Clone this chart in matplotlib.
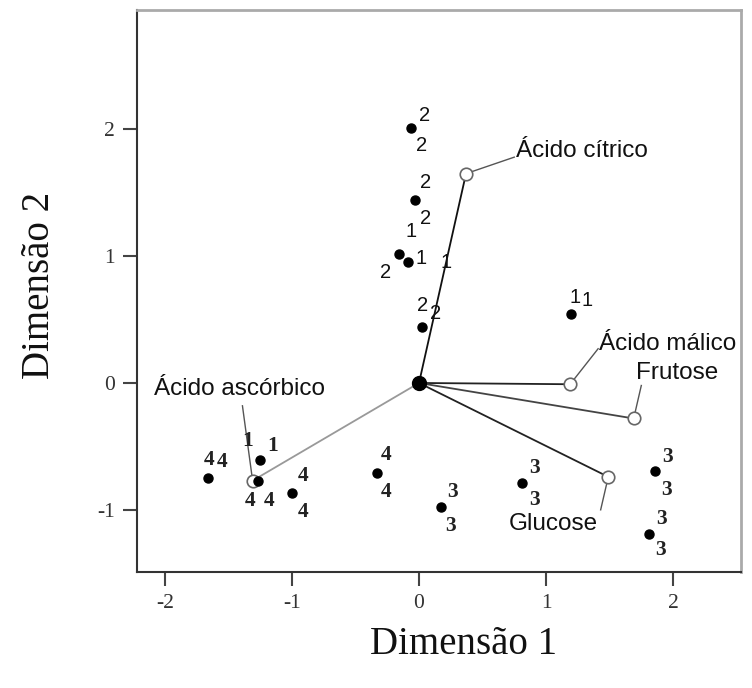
import matplotlib.pyplot as plt

plt.rcParams["axes.unicode_minus"] = False

# object scores (filled dots)
point_x = [-0.06, -0.03, -0.16, -0.09, 0.02, 1.20, -1.66, -1.25, -1.27, -1.00, -0.33, 0.17, 0.81, 1.86, 1.81]
point_y = [2.01, 1.44, 1.02, 0.95, 0.44, 0.54, -0.75, -0.61, -0.77, -0.87, -0.71, -0.98, -0.79, -0.69, -1.19]

# group labels around the points
label_text = ["2", "2", "2", "2", "1", "1", "2", "1", "2", "2", "1", "1",
              "4", "4", "1", "1", "4", "4", "4", "4", "4", "4",
              "3", "3", "3", "3", "3", "3", "3", "3"]
label_x = [0.04, 0.02, 0.05, 0.05, -0.06, 0.02, -0.26, 0.21, 0.03, 0.13, 1.23, 1.32,
           -1.65, -1.55, -1.35, -1.15, -1.33, -1.18, -0.91, -0.91, -0.26, -0.26,
           0.26, 0.25, 0.91, 0.91, 1.96, 1.95, 1.91, 1.90]
label_y = [2.11, 1.87, 1.58, 1.30, 1.19, 0.98, 0.87, 0.95, 0.61, 0.55, 0.67, 0.65,
           -0.61, -0.62, -0.46, -0.50, -0.93, -0.93, -0.73, -1.02, -0.57, -0.86,
           -0.86, -1.13, -0.67, -0.92, -0.58, -0.84, -1.07, -1.32]

# variable loadings (open circles)
variables = ["Ácido cítrico", "Ácido málico", "Frutose", "Glucose", "Ácido ascórbico"]
var_x = [0.37, 1.19, 1.69, 1.49, -1.31]
var_y = [1.65, -0.01, -0.28, -0.74, -0.77]
var_text_x = [0.76, 1.42, 1.71, 1.41, -2.09]
var_text_y = [1.83, 0.31, 0.08, -1.11, -0.05]
var_lead_x = [0.75, 1.41, 1.75, 1.43, -1.39]
var_lead_y = [1.78, 0.27, -0.02, -1.00, -0.18]
var_color = ["#111111", "#222222", "#444444", "#222222", "#999999"]

fig = plt.figure(figsize=(7.52, 6.88), dpi=100)
ax = fig.add_axes([0.1822, 0.1686, 0.8032, 0.8169])

# vectors from the origin
for i in range(len(variables)):
    ax.plot([0, var_x[i]], [0, var_y[i]], color=var_color[i], lw=1.3, zorder=2)
    ax.plot([var_x[i], var_lead_x[i]], [var_y[i], var_lead_y[i]], color="#555555", lw=1.0, zorder=2)
    ax.plot(var_x[i], var_y[i], "o", ms=9, mfc="white", mec="#666666", mew=1.2, zorder=3)
    ha = "right" if variables[i] == "Glucose" else "left"
    ax.text(var_text_x[i], var_text_y[i], variables[i], ha=ha, va="center",
            fontsize=17.5, family="Liberation Sans", color="#111111")

ax.plot(point_x, point_y, "o", color="black", ms=6.5, zorder=4)
ax.plot(0, 0, "o", color="black", ms=10, zorder=4)

for t, x, y in zip(label_text, label_x, label_y):
    if t in ("3", "4") or y < -0.3:
        ax.text(x, y, t, ha="center", va="center", fontsize=15.5,
                family="Liberation Serif", fontweight="bold", color="#222222")
    else:
        ax.text(x, y, t, ha="center", va="center", fontsize=14.5,
                family="Liberation Sans", color="#111111")

ax.set_xlim(-2.22, 2.535)
ax.set_ylim(-1.49, 2.94)
ax.set_xticks([-2, -1, 0, 1, 2])
ax.set_yticks([-1, 0, 1, 2])
ax.tick_params(direction="out", length=10, width=1.5, color="#444444",
               labelsize=15.5, labelcolor="#333333", pad=6)
for lab in ax.get_xticklabels() + ax.get_yticklabels():
    lab.set_family("Liberation Serif")

ax.spines["left"].set_color("#333333")
ax.spines["bottom"].set_color("#333333")
ax.spines["left"].set_linewidth(1.5)
ax.spines["bottom"].set_linewidth(1.5)
ax.spines["top"].set_color("#aaaaaa")
ax.spines["right"].set_color("#aaaaaa")
ax.spines["top"].set_linewidth(2)
ax.spines["right"].set_linewidth(2)

fig.text(464 / 752, 1 - 645 / 688, "Dimensão 1", ha="center", va="center",
         fontsize=28, family="Liberation Serif", color="#111111")
fig.text(40 / 752, 1 - 285 / 688, "Dimensão 2", ha="center", va="center",
         rotation=90, fontsize=28, family="Liberation Serif", color="#111111")

fig.savefig("out.png", dpi=100)
